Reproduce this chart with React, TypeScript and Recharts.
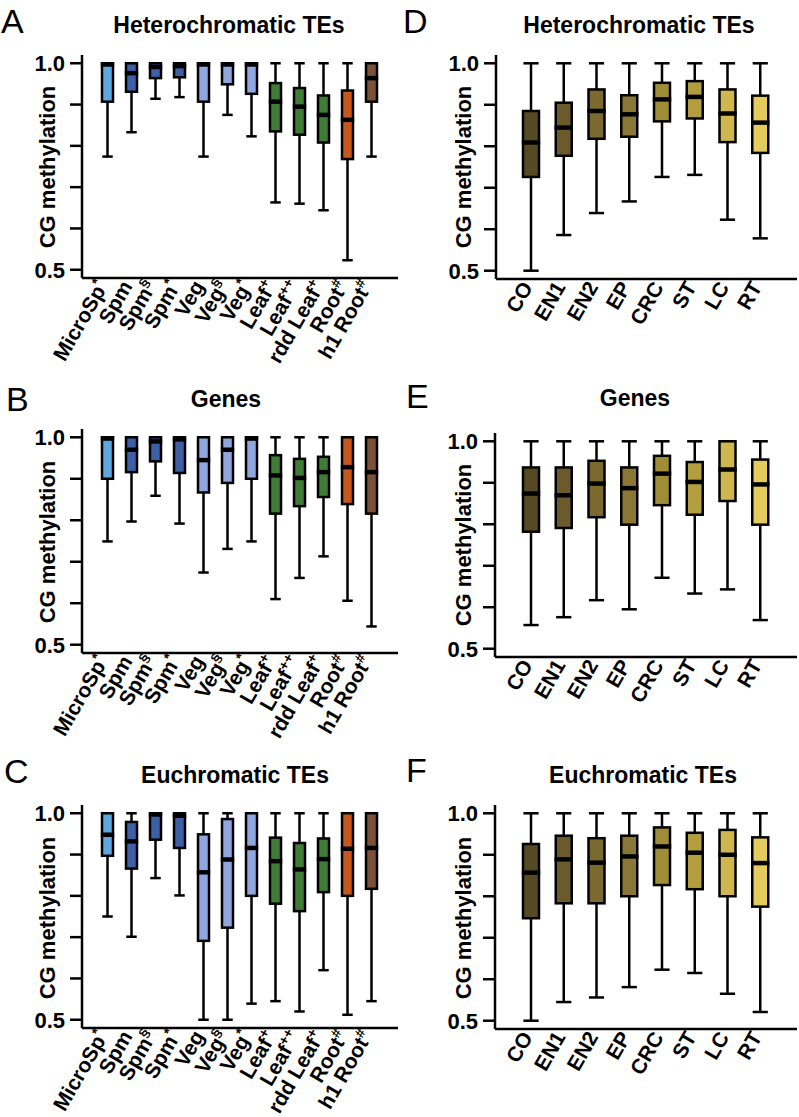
import React from "react";
import { Bar, ComposedChart, XAxis, YAxis } from "recharts";

const FONT = "'Liberation Sans', Arial, Helvetica, sans-serif";

// categories
const tissueNames = [
  "MicroSp*",
  "Spm",
  "Spm§",
  "Spm*",
  "Veg",
  "Veg§",
  "Veg*",
  "Leaf+",
  "Leaf++",
  "rdd Leaf+",
  "Root#",
  "h1 Root#",
];
const cellNames = ["CO", "EN1", "EN2", "EP", "CRC", "ST", "LC", "RT"];

// [low whisker, q1, median, q3, high whisker]
type Stat = [number, number, number, number, number];

const hetTissue: Stat[] = [
  [0.774, 0.907, 0.997, 1.0, 1.0],
  [0.833, 0.931, 0.976, 1.0, 1.0],
  [0.914, 0.964, 0.991, 1.0, 1.0],
  [0.918, 0.966, 0.993, 1.0, 1.0],
  [0.774, 0.907, 0.997, 1.0, 1.0],
  [0.875, 0.949, 0.997, 1.0, 1.0],
  [0.823, 0.926, 0.997, 1.0, 1.0],
  [0.663, 0.835, 0.907, 0.952, 1.0],
  [0.66, 0.827, 0.895, 0.94, 1.0],
  [0.644, 0.808, 0.875, 0.922, 1.0],
  [0.523, 0.768, 0.863, 0.934, 1.0],
  [0.774, 0.907, 0.964, 1.0, 1.0],
];

const geneTissue: Stat[] = [
  [0.749, 0.9, 0.997, 1.0, 1.0],
  [0.797, 0.916, 0.97, 1.0, 1.0],
  [0.859, 0.942, 0.99, 1.0, 1.0],
  [0.792, 0.914, 0.995, 1.0, 1.0],
  [0.674, 0.867, 0.945, 1.0, 1.0],
  [0.731, 0.89, 0.97, 1.0, 1.0],
  [0.749, 0.9, 0.997, 1.0, 1.0],
  [0.61, 0.816, 0.908, 0.957, 1.0],
  [0.661, 0.834, 0.902, 0.948, 1.0],
  [0.713, 0.856, 0.916, 0.953, 1.0],
  [0.606, 0.839, 0.928, 1.0, 1.0],
  [0.544, 0.816, 0.916, 1.0, 1.0],
];

const euTissue: Stat[] = [
  [0.75, 0.897, 0.948, 1.0, 1.0],
  [0.701, 0.866, 0.932, 0.979, 1.0],
  [0.843, 0.936, 0.997, 1.0, 1.0],
  [0.801, 0.916, 0.994, 1.0, 1.0],
  [0.5, 0.691, 0.857, 0.949, 1.0],
  [0.5, 0.723, 0.888, 0.986, 1.0],
  [0.539, 0.8, 0.916, 1.0, 1.0],
  [0.545, 0.781, 0.884, 0.941, 1.0],
  [0.52, 0.763, 0.864, 0.928, 1.0],
  [0.62, 0.809, 0.889, 0.939, 1.0],
  [0.512, 0.8, 0.914, 1.0, 1.0],
  [0.545, 0.817, 0.916, 1.0, 1.0],
];

const hetCell: Stat[] = [
  [0.5, 0.726, 0.809, 0.885, 1.0],
  [0.586, 0.777, 0.845, 0.905, 1.0],
  [0.639, 0.818, 0.885, 0.937, 1.0],
  [0.667, 0.823, 0.877, 0.923, 1.0],
  [0.726, 0.86, 0.913, 0.953, 1.0],
  [0.731, 0.867, 0.919, 0.957, 1.0],
  [0.623, 0.81, 0.879, 0.937, 1.0],
  [0.578, 0.784, 0.857, 0.922, 1.0],
];

const geneCell: Stat[] = [
  [0.557, 0.782, 0.874, 0.937, 1.0],
  [0.576, 0.791, 0.87, 0.937, 1.0],
  [0.617, 0.817, 0.898, 0.953, 1.0],
  [0.595, 0.799, 0.887, 0.937, 1.0],
  [0.671, 0.846, 0.922, 0.965, 1.0],
  [0.633, 0.823, 0.902, 0.95, 1.0],
  [0.643, 0.856, 0.932, 1.0, 1.0],
  [0.569, 0.799, 0.896, 0.956, 1.0],
];

const euCell: Stat[] = [
  [0.5, 0.747, 0.857, 0.926, 1.0],
  [0.545, 0.783, 0.889, 0.946, 1.0],
  [0.556, 0.783, 0.881, 0.94, 1.0],
  [0.581, 0.8, 0.896, 0.946, 1.0],
  [0.623, 0.827, 0.92, 0.966, 1.0],
  [0.615, 0.817, 0.905, 0.953, 1.0],
  [0.565, 0.8, 0.9, 0.96, 1.0],
  [0.521, 0.775, 0.88, 0.942, 1.0],
];

const yTicks = [0.5, 0.6, 0.7, 0.8, 0.9, 1.0];

const tissueColors = [
  "#5DA9DF",
  "#3D5FA6",
  "#3D5FA6",
  "#3D5FA6",
  "#8FA7DE",
  "#8FA7DE",
  "#8FA7DE",
  "#3F7D36",
  "#3F7D36",
  "#3F7D36",
  "#C8571D",
  "#7D5038",
];
const cellColors = [
  "#574A23",
  "#6B5A2B",
  "#7A6A2F",
  "#8A7735",
  "#A08D38",
  "#B39E3E",
  "#CFB64E",
  "#E3CB5E",
];

const buildRows = (names: string[], stats: Stat[], colors: string[]) =>
  names.map((name, i) => ({
    name,
    low: stats[i][0],
    q1: stats[i][1],
    median: stats[i][2],
    q3: stats[i][3],
    high: stats[i][4],
    color: colors[i],
  }));

// draws whiskers, box and median inside the bar the library lays out for [low, high]
const BoxShape = (props: any) => {
  const { x, y, width, height, payload } = props;
  if (x == null || y == null || !payload) return null;
  const top = Math.min(y, y + height);
  const bottom = Math.max(y, y + height);
  const span = payload.high - payload.low || 1;
  const toY = (v: number) => top + ((payload.high - v) / span) * (bottom - top);
  const cx = x + width / 2;
  const capW = width * 0.95;
  const yHigh = toY(payload.high);
  const yLow = toY(payload.low);
  const yQ3 = toY(payload.q3);
  const yQ1 = toY(payload.q1);
  const yMed = toY(payload.median);
  return (
    <g>
      <line x1={cx} x2={cx} y1={yHigh} y2={yLow} stroke="#000" strokeWidth={2.5} />
      <line x1={cx - capW / 2} x2={cx + capW / 2} y1={yHigh} y2={yHigh} stroke="#000" strokeWidth={2.5} />
      <line x1={cx - capW / 2} x2={cx + capW / 2} y1={yLow} y2={yLow} stroke="#000" strokeWidth={2.5} />
      <rect x={x} y={yQ3} width={width} height={yQ1 - yQ3} fill={payload.color} stroke="#000" strokeWidth={2.5} />
      <line x1={x - 1.2} x2={x + width + 1.2} y1={yMed} y2={yMed} stroke="#000" strokeWidth={4.5} />
    </g>
  );
};

const SlantTick = (props: any) => {
  const { x, y, payload } = props;
  const m = /^(.*?)([*§+#]*)$/.exec(String(payload.value));
  const base = m ? m[1] : String(payload.value);
  const sup = m ? m[2] : "";
  return (
    <g transform={`translate(${x + 2},${y + 8})`}>
      <text
        transform="rotate(-60)"
        textAnchor="end"
        fontFamily={FONT}
        fontWeight="bold"
        fontSize={21}
        fill="#000"
      >
        {base}
        {sup ? (
          <tspan dy={-8} fontSize={14}>
            {sup}
          </tspan>
        ) : null}
      </text>
    </g>
  );
};

const panels = [
  { id: "A", rows: buildRows(tissueNames, hetTissue, tissueColors), left: 0, axisX: 82, top: 55, bottom: 278, right: 398, barSize: 11, padL: 13, padR: 15 },
  { id: "B", rows: buildRows(tissueNames, geneTissue, tissueColors), left: 0, axisX: 82, top: 429, bottom: 653, right: 398, barSize: 11, padL: 13, padR: 15 },
  { id: "C", rows: buildRows(tissueNames, euTissue, tissueColors), left: 0, axisX: 82, top: 805, bottom: 1028, right: 398, barSize: 11, padL: 13, padR: 15 },
  { id: "D", rows: buildRows(cellNames, hetCell, cellColors), left: 400, axisX: 496, top: 55, bottom: 279, right: 797, barSize: 16, padL: 19, padR: 20 },
  { id: "E", rows: buildRows(cellNames, geneCell, cellColors), left: 400, axisX: 495, top: 433, bottom: 657, right: 797, barSize: 16, padL: 20, padR: 20 },
  { id: "F", rows: buildRows(cellNames, euCell, cellColors), left: 400, axisX: 495, top: 805, bottom: 1029, right: 797, barSize: 16, padL: 20, padR: 20 },
];

const titles = [
  { text: "A", x: 1, y: 33, title: "Heterochromatic TEs", tx: 229, ty: 33, lx: 55, ly: 167 },
  { text: "B", x: 6, y: 411, title: "Genes", tx: 226, ty: 407, lx: 55, ly: 542 },
  { text: "C", x: 4, y: 783, title: "Euchromatic TEs", tx: 235, ty: 783, lx: 55, ly: 918 },
  { text: "D", x: 403, y: 33, title: "Heterochromatic TEs", tx: 639, ty: 33, lx: 471, ly: 167 },
  { text: "E", x: 406, y: 408, title: "Genes", tx: 635, ty: 406, lx: 471, ly: 545 },
  { text: "F", x: 406, y: 782, title: "Euchromatic TEs", tx: 643, ty: 783, lx: 471, ly: 918 },
];

const BoxPanel = ({ p }: { p: (typeof panels)[number] }) => {
  const chartTop = p.top - 15;
  const xAxisH = 100;
  const width = p.right + 2 - p.left;
  const height = p.bottom - chartTop + xAxisH;
  return (
    <div style={{ position: "absolute", left: p.left, top: chartTop, width, height }}>
      <ComposedChart
        width={width}
        height={height}
        data={p.rows}
        margin={{ top: 15, right: 2, left: 0, bottom: 0 }}
      >
        <XAxis
          dataKey="name"
          type="category"
          interval={0}
          height={xAxisH}
          padding={{ left: p.padL, right: p.padR }}
          axisLine={{ stroke: "#000", strokeWidth: 2.5 }}
          tickLine={false}
          tickSize={0}
          tickMargin={0}
          tick={<SlantTick />}
        />
        <YAxis
          type="number"
          domain={[0.48, 1.02]}
          allowDataOverflow
          ticks={yTicks}
          width={p.axisX - p.left}
          axisLine={{ stroke: "#000", strokeWidth: 2.5 }}
          tickLine={{ stroke: "#000", strokeWidth: 2.5 }}
          tickSize={12}
          tickMargin={5}
          tickFormatter={(v: number) =>
            Math.abs(v - 0.5) < 1e-6 || Math.abs(v - 1) < 1e-6 ? v.toFixed(1) : ""
          }
          tick={{ fill: "#000", fontSize: 22, fontWeight: "bold", fontFamily: FONT }}
        />
        <Bar
          dataKey={(d: any) => [d.low, d.high]}
          barSize={p.barSize}
          isAnimationActive={false}
          shape={<BoxShape />}
        />
      </ComposedChart>
    </div>
  );
};

export default function App() {
  return (
    <div
      style={{
        position: "absolute",
        left: 0,
        top: 0,
        width: 799,
        height: 1117,
        background: "#fff",
        overflow: "hidden",
      }}
    >
      {panels.map((p) => (
        <BoxPanel key={p.id} p={p} />
      ))}
      <svg
        width={799}
        height={1117}
        style={{ position: "absolute", left: 0, top: 0, pointerEvents: "none" }}
      >
        {titles.map((t) => (
          <g key={t.text} fontFamily={FONT} fill="#000">
            <text x={t.x} y={t.y} fontSize={34}>
              {t.text}
            </text>
            <text x={t.tx} y={t.ty} fontSize={23} fontWeight="bold" textAnchor="middle">
              {t.title}
            </text>
            <text
              x={t.lx}
              y={t.ly}
              fontSize={22}
              fontWeight="bold"
              textAnchor="middle"
              transform={`rotate(-90 ${t.lx} ${t.ly})`}
            >
              CG methylation
            </text>
          </g>
        ))}
      </svg>
    </div>
  );
}
